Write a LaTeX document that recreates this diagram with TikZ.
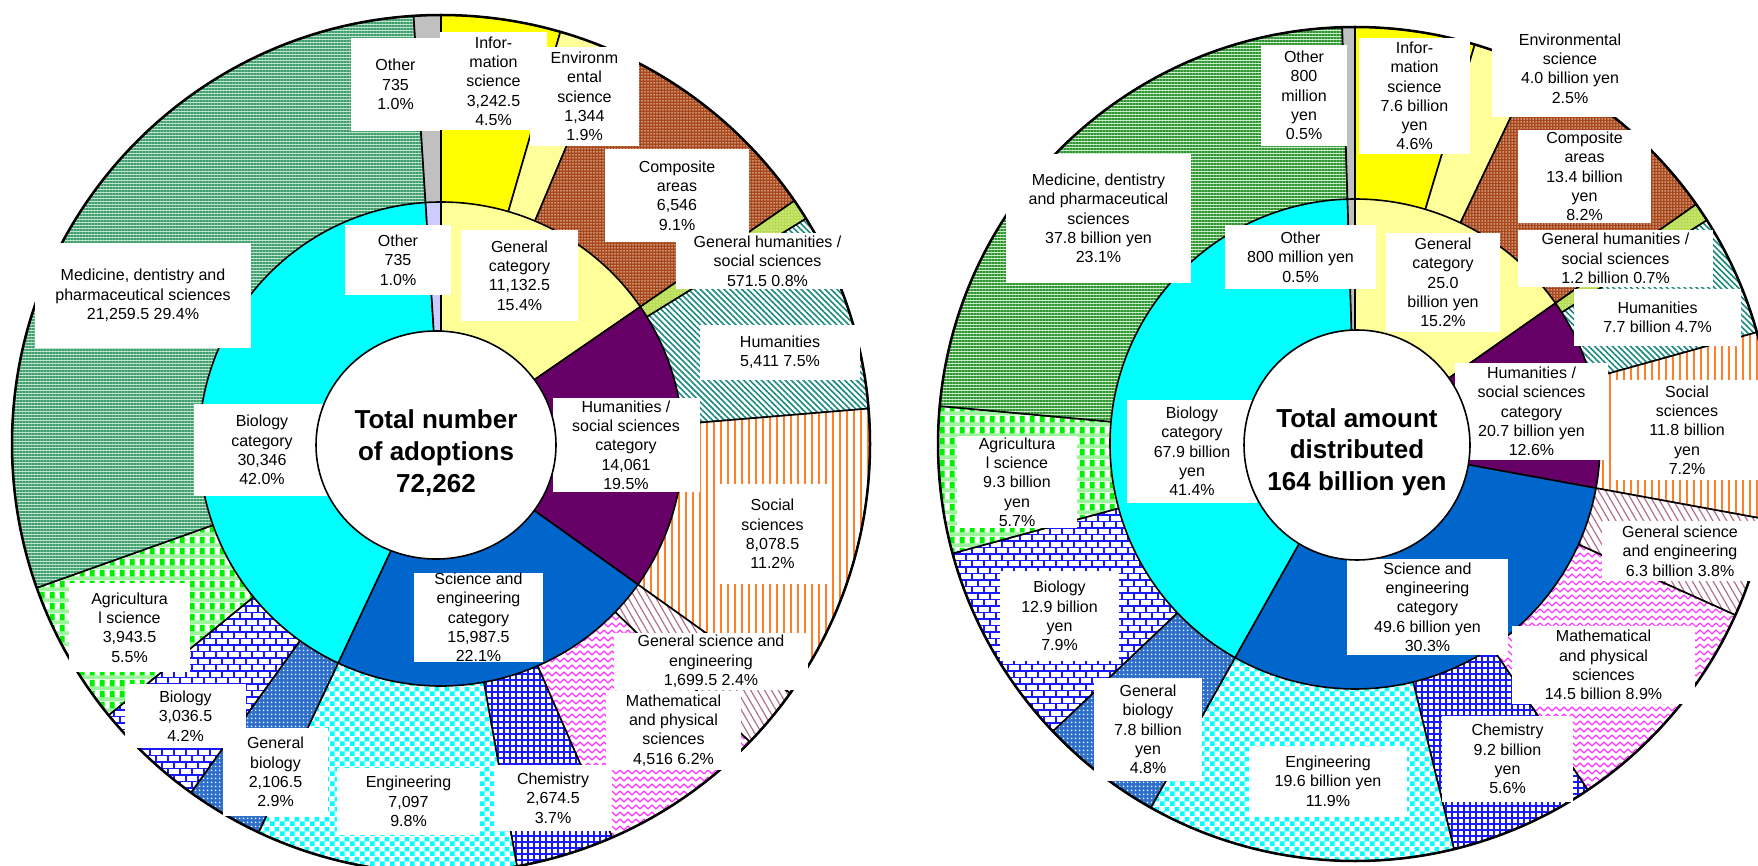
\documentclass[tikz,border=0pt]{standalone}
\usepackage{fontspec}
\setmainfont{Liberation Sans}
\usetikzlibrary{patterns,patterns.meta}
\definecolor{cInfo}{HTML}{FFFF00}
\definecolor{cEnv}{HTML}{FFFF99}
\definecolor{cComp}{HTML}{A8481A}
\definecolor{cGenHum}{HTML}{B8DC50}
\definecolor{cHum}{HTML}{1A8A80}
\definecolor{cSoc}{HTML}{FF7F2A}
\definecolor{cGenSci}{HTML}{B0708A}
\definecolor{cMath}{HTML}{FF33FF}
\definecolor{cChem}{HTML}{1A1AFF}
\definecolor{cEng}{HTML}{00FFFF}
\definecolor{cGenBio}{HTML}{2D6FC9}
\definecolor{cBio}{HTML}{1A1AFF}
\definecolor{cAgri}{HTML}{00F000}
\definecolor{cAgriLt}{HTML}{9CF59C}
\definecolor{cMedL}{HTML}{3D9E6E}
\definecolor{cMedLbg}{HTML}{C2E4CF}
\definecolor{cMedR}{HTML}{2E962E}
\definecolor{cMedRbg}{HTML}{CDEBCD}
\definecolor{cOther}{HTML}{C0C0C0}
\definecolor{cGenCat}{HTML}{FFFF99}
\definecolor{cHumCat}{HTML}{660066}
\definecolor{cSciCat}{HTML}{0066CC}
\definecolor{cBioCat}{HTML}{00FFFF}
\definecolor{cOtherIn}{HTML}{CCCCFF}

\pgfdeclarepatternformonly{mybricks}{\pgfqpoint{-1pt}{-1pt}}{\pgfqpoint{13pt}{14pt}}{\pgfqpoint{12pt}{13pt}}{%
 \pgfsetlinewidth{1.3pt}%
 \pgfpathmoveto{\pgfqpoint{0pt}{0pt}}\pgfpathlineto{\pgfqpoint{12pt}{0pt}}%
 \pgfpathmoveto{\pgfqpoint{0pt}{6.5pt}}\pgfpathlineto{\pgfqpoint{12pt}{6.5pt}}%
 \pgfpathmoveto{\pgfqpoint{0pt}{0pt}}\pgfpathlineto{\pgfqpoint{0pt}{6.5pt}}%
 \pgfpathmoveto{\pgfqpoint{6pt}{6.5pt}}\pgfpathlineto{\pgfqpoint{6pt}{13pt}}%
 \pgfusepath{stroke}}
\pgfdeclarepatternformonly{myzigzag}{\pgfqpoint{-1pt}{-1pt}}{\pgfqpoint{9pt}{8pt}}{\pgfqpoint{8pt}{7pt}}{%
 \pgfsetlinewidth{1.1pt}%
 \pgfpathmoveto{\pgfqpoint{0pt}{1pt}}\pgfpathlineto{\pgfqpoint{4pt}{5pt}}\pgfpathlineto{\pgfqpoint{8pt}{1pt}}%
 \pgfusepath{stroke}}
\pgfdeclarepatternformonly{mychecker}{\pgfqpoint{0pt}{0pt}}{\pgfqpoint{10pt}{10pt}}{\pgfqpoint{10pt}{10pt}}{%
 \pgfpathrectangle{\pgfqpoint{0pt}{0pt}}{\pgfqpoint{5pt}{5pt}}%
 \pgfpathrectangle{\pgfqpoint{5pt}{5pt}}{\pgfqpoint{5pt}{5pt}}%
 \pgfusepath{fill}}
\pgfdeclarepatterninherentlycolored{myplaid}{\pgfqpoint{0pt}{0pt}}{\pgfqpoint{10pt}{11pt}}{\pgfqpoint{10pt}{11pt}}{%
 \pgfsetfillcolor{cAgriLt}%
 \pgfpathrectangle{\pgfqpoint{0pt}{0pt}}{\pgfqpoint{10pt}{11pt}}\pgfusepath{fill}%
 \pgfsetfillcolor{white}%
 \pgfpathrectangle{\pgfqpoint{0pt}{4pt}}{\pgfqpoint{10pt}{7pt}}\pgfusepath{fill}%
 \pgfsetfillcolor{cAgri}%
 \pgfpathrectangle{\pgfqpoint{0pt}{4pt}}{\pgfqpoint{5pt}{7pt}}\pgfusepath{fill}}

\newcommand{\myslice}[6]{%
  \path[#6] (#1,#2) -- ++({#4-90}:#3) arc[start angle={#4-90}, end angle={#5-90}, radius=#3] -- cycle;}

\tikzset{
  sl/.style={draw=black, line width=1.6pt, line join=round},
  info/.style={sl, fill=cInfo},
  env/.style={sl, fill=cEnv},
  comp/.style={sl, preaction={fill=cComp}, pattern={Dots[distance=3pt,radius=0.75pt]}, pattern color=white!85!cComp},
  genhum/.style={sl, preaction={fill=cGenHum}, pattern={Dots[distance=3pt,radius=0.7pt]}, pattern color=white},
  hum/.style={sl, preaction={fill=white}, pattern={Lines[angle=-45,distance=4.2pt,line width=1.6pt]}, pattern color=cHum},
  soc/.style={sl, preaction={fill=white}, pattern={Lines[angle=90,distance=7pt,line width=2.5pt]}, pattern color=cSoc},
  gensci/.style={sl, preaction={fill=white}, pattern={Lines[angle=-60,distance=6pt,line width=1.2pt]}, pattern color=cGenSci},
  math/.style={sl, preaction={fill=white}, pattern=myzigzag, pattern color=cMath},
  chem/.style={sl, preaction={fill=white}, pattern={Hatch[angle=0,distance=6pt,line width=1.2pt]}, pattern color=cChem},
  eng/.style={sl, preaction={fill=white}, pattern=mychecker, pattern color=cEng},
  genbio/.style={sl, preaction={fill=cGenBio}, pattern={Dots[distance=4pt,radius=1pt]}, pattern color=white},
  bio/.style={sl, preaction={fill=white}, pattern=mybricks, pattern color=cBio},
  agri/.style={sl, pattern=myplaid},
  medL/.style={sl, preaction={fill=cMedLbg}, pattern={Lines[angle=0,distance=3pt,line width=1.4pt]}, pattern color=cMedL},
  medR/.style={sl, preaction={fill=cMedRbg}, pattern={Lines[angle=0,distance=3pt,line width=1.4pt]}, pattern color=cMedR},
  oth/.style={sl, fill=cOther},
  gencat/.style={sl, fill=cGenCat},
  humcat/.style={sl, fill=cHumCat},
  scicat/.style={sl, fill=cSciCat},
  biocat/.style={sl, fill=cBioCat},
  othin/.style={sl, fill=cOtherIn},
  lbl/.style={fill=white, align=center, inner sep=0pt, font=\fontsize{16}{19.3}\selectfont},
  ctr/.style={align=center, inner sep=0pt, font=\fontsize{26}{31.7}\selectfont\bfseries}
}

\begin{document}
\begin{tikzpicture}[x=1pt,y=-1pt]
\useasboundingbox (0,0) rectangle (1758,866);
\clip (0,0) rectangle (1758,866);
\fill[white] (0,0) rectangle (1758,866);

% ---------------- left chart ----------------
\myslice{441}{444}{429}{0}{16.154}{info}
\myslice{441}{444}{429}{16.154}{22.849}{env}
\myslice{441}{444}{429}{22.849}{55.461}{comp}
\myslice{441}{444}{429}{55.461}{58.308}{genhum}
\myslice{441}{444}{429}{58.308}{85.265}{hum}
\myslice{441}{444}{429}{85.265}{125.51}{soc}
\myslice{441}{444}{429}{125.51}{133.98}{gensci}
\myslice{441}{444}{429}{133.98}{156.48}{math}
\myslice{441}{444}{429}{156.48}{169.80}{chem}
\myslice{441}{444}{429}{169.80}{205.16}{eng}
\myslice{441}{444}{429}{205.16}{215.65}{genbio}
\myslice{441}{444}{429}{215.65}{230.78}{bio}
\myslice{441}{444}{429}{230.78}{250.42}{agri}
\myslice{441}{444}{429}{250.42}{356.34}{medL}
\myslice{441}{444}{429}{356.34}{360}{oth}
\myslice{441}{444}{242}{0}{55.461}{gencat}
\myslice{441}{444}{242}{55.461}{125.51}{humcat}
\myslice{441}{444}{242}{125.51}{205.16}{scicat}
\myslice{441}{444}{242}{205.16}{356.34}{biocat}
\myslice{441}{444}{242}{356.34}{360}{othin}
\draw[line width=2.5pt] (441,444) circle[radius=429];

\node[lbl, minimum width=89, minimum height=93] (Lo) at (395.5,84.5) {Other\\735\\1.0\%};
\node[lbl, minimum width=107, minimum height=98] (Linfo) at (493.5,81) {Infor-\\mation\\science\\3,242.5\\4.5\%};
\node[lbl, minimum width=109, minimum height=99] (Lenv) at (584.5,96.5) {Environm\\ental\\science\\1,344\\1.9\%};
\node[lbl, minimum width=144, minimum height=93] (Lcomp) at (677,195.5) {Composite\\areas\\6,546\\9.1\%};
\node[lbl, minimum width=183, minimum height=56] (Lgenhum) at (767.5,261) {General humanities /\\social sciences\\571.5 0.8\%};
\node[lbl, minimum width=160, minimum height=55] (Lhum) at (780,352.5) {Humanities\\5,411 7.5\%};
\node[lbl, minimum width=111, minimum height=100] (Lsoc) at (772.5,534) {Social\\sciences\\8,078.5\\11.2\%};
\node[lbl, minimum width=194, minimum height=57] (Lgensci) at (711,661.5) {General science and\\engineering\\1,699.5 2.4\%};
\node[lbl, minimum width=135, minimum height=79] (Lmath) at (673.5,730.5) {Mathematical\\and physical\\sciences\\4,516 6.2\%};
\node[lbl, minimum width=118, minimum height=66] (Lchem) at (553,798) {Chemistry\\2,674.5\\3.7\%};
\node[lbl, minimum width=143, minimum height=67] (Leng) at (408.5,801.5) {Engineering\\7,097\\9.8\%};
\node[lbl, minimum width=105, minimum height=88] (Lgenbio) at (275.5,772) {General\\biology\\2,106.5\\2.9\%};
\node[lbl, minimum width=121, minimum height=64] (Lbio) at (185.5,716) {Biology\\3,036.5\\4.2\%};
\node[lbl, minimum width=121, minimum height=89] (Lagri) at (129.5,627.5) {Agricultura\\l science\\3,943.5\\5.5\%};
\node[lbl, minimum width=216, minimum height=105] (Lmed) at (143,295.5) {Medicine, dentistry and\\pharmaceutical sciences\\21,259.5 29.4\%};
\node[lbl, minimum width=106, minimum height=70] (Loi) at (398,260) {Other\\735\\1.0\%};
\node[lbl, minimum width=117, minimum height=91] (Lgen) at (519.5,275.5) {General\\category\\11,132.5\\15.4\%};
\node[lbl, minimum width=147, minimum height=94] (Lhumcat) at (626,445) {Humanities /\\social sciences\\category\\14,061\\19.5\%};
\node[lbl, minimum width=129, minimum height=89] (Lsci) at (478.5,617.5) {Science and\\engineering\\category\\15,987.5\\22.1\%};
\node[lbl, minimum width=136, minimum height=92] (Lbiocat) at (262,450) {Biology\\category\\30,346\\42.0\%};

\draw[line width=1.6pt, fill=white] (436,445) ellipse[x radius=120, y radius=114];
\node[ctr] (Lctr) at (436,453) {Total number\\of adoptions\\72,262};

% ---------------- right chart ----------------
\myslice{1355}{444}{417}{0}{16.69}{info}
\myslice{1355}{444}{417}{16.69}{25.48}{env}
\myslice{1355}{444}{417}{25.48}{54.91}{comp}
\myslice{1355}{444}{417}{54.91}{57.55}{genhum}
\myslice{1355}{444}{417}{57.55}{74.46}{hum}
\myslice{1355}{444}{417}{74.46}{100.38}{soc}
\myslice{1355}{444}{417}{100.38}{114.22}{gensci}
\myslice{1355}{444}{417}{114.22}{146.06}{math}
\myslice{1355}{444}{417}{146.06}{166.27}{chem}
\myslice{1355}{444}{417}{166.27}{209.32}{eng}
\myslice{1355}{444}{417}{209.32}{226.45}{genbio}
\myslice{1355}{444}{417}{226.45}{254.79}{bio}
\myslice{1355}{444}{417}{254.79}{275.22}{agri}
\myslice{1355}{444}{417}{275.22}{358.24}{medR}
\myslice{1355}{444}{417}{358.24}{360}{oth}
\myslice{1355}{444}{245}{0}{54.91}{gencat}
\myslice{1355}{444}{245}{54.91}{100.38}{humcat}
\myslice{1355}{444}{245}{100.38}{209.32}{scicat}
\myslice{1355}{444}{245}{209.32}{358.24}{biocat}
\myslice{1355}{444}{245}{358.24}{360}{oth}
\draw[line width=2.5pt] (1355,444) circle[radius=417];

\node[lbl, minimum width=86, minimum height=101] (Ro) at (1304,95.5) {Other\\800\\million\\yen\\0.5\%};
\node[lbl, minimum width=111, minimum height=116] (Rinfo) at (1414.5,96) {Infor-\\mation\\science\\7.6 billion\\yen\\4.6\%};
\node[lbl, minimum width=156, minimum height=97] (Renv) at (1570,68.5) {Environmental\\science\\4.0 billion yen\\2.5\%};
\node[lbl, minimum width=133, minimum height=93] (Rcomp) at (1584.5,176.5) {Composite\\areas\\13.4 billion\\yen\\8.2\%};
\node[lbl, minimum width=195, minimum height=57] (Rgenhum) at (1615.5,258.5) {General humanities /\\social sciences\\1.2 billion 0.7\%};
\node[lbl, minimum width=167, minimum height=57] (Rhum) at (1657.5,317.5) {Humanities\\7.7 billion 4.7\%};
\node[lbl, minimum width=146, minimum height=100] (Rsoc) at (1687,430) {Social\\sciences\\11.8 billion\\yen\\7.2\%};
\node[lbl, minimum width=156, minimum height=60] (Rgensci) at (1680,551) {General science\\and engineering\\6.3 billion 3.8\%};
\node[lbl, minimum width=183, minimum height=78] (Rmath) at (1603.5,665) {Mathematical\\and physical\\sciences\\14.5 billion 8.9\%};
\node[lbl, minimum width=131, minimum height=86] (Rchem) at (1507.5,759) {Chemistry\\9.2 billion\\yen\\5.6\%};
\node[lbl, minimum width=158, minimum height=70] (Reng) at (1328,781) {Engineering\\19.6 billion yen\\11.9\%};
\node[lbl, minimum width=108, minimum height=103] (Rgenbio) at (1148,729.5) {General\\biology\\7.8 billion\\yen\\4.8\%};
\node[lbl, minimum width=119, minimum height=90] (Rbio) at (1059.5,616) {Biology\\12.9 billion\\yen\\7.9\%};
\node[lbl, minimum width=120, minimum height=92] (Ragri) at (1017,482) {Agricultura\\l science\\9.3 billion\\yen\\5.7\%};
\node[lbl, minimum width=185, minimum height=129] (Rmed) at (1098.5,218.5) {Medicine, dentistry\\and pharmaceutical\\sciences\\37.8 billion yen\\23.1\%};
\node[lbl, minimum width=151, minimum height=64] (Roi) at (1300.5,257) {Other\\800 million yen\\0.5\%};
\node[lbl, minimum width=114, minimum height=99] (Rgen) at (1443,282.5) {General\\category\\25.0\\billion yen\\15.2\%};
\node[lbl, minimum width=153, minimum height=97] (Rhumcat) at (1531.5,411.5) {Humanities /\\social sciences\\category\\20.7 billion yen\\12.6\%};
\node[lbl, minimum width=161, minimum height=96] (Rsci) at (1427.5,607) {Science and\\engineering\\category\\49.6 billion yen\\30.3\%};
\node[lbl, minimum width=130, minimum height=103] (Rbiocat) at (1192,451.5) {Biology\\category\\67.9 billion\\yen\\41.4\%};

\draw[line width=1.6pt, fill=white] (1357,445) ellipse[x radius=113, y radius=115];
\node[ctr] (Rctr) at (1357,452) {Total amount\\distributed\\164 billion yen};
\end{tikzpicture}
\end{document}
